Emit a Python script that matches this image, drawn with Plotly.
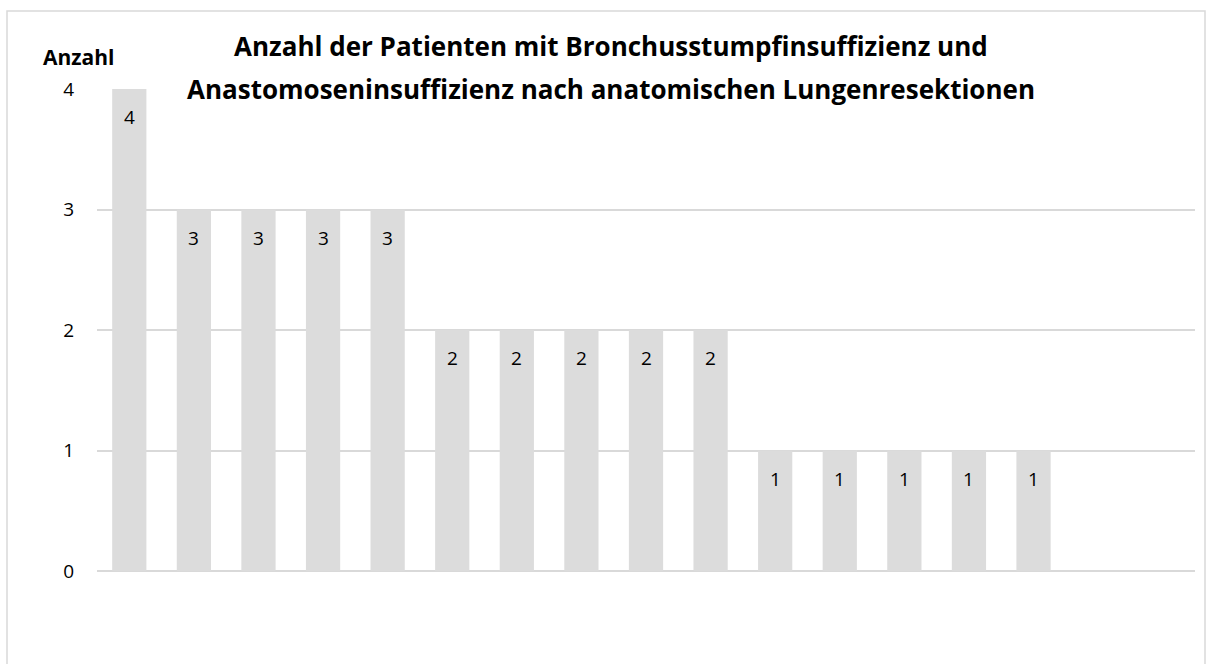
import plotly.graph_objects as go

# Patient counts per group, sorted descending; the last two slots hold no bars
categories = [f"K{i}" for i in range(1, 18)]
counts = [4, 3, 3, 3, 3, 2, 2, 2, 2, 2, 1, 1, 1, 1, 1, None, None]
y_ticks = [0, 1, 2, 3, 4]

title_lines = [
    "Anzahl der Patienten mit Bronchusstumpfinsuffizienz und",
    "Anastomoseninsuffizienz nach anatomischen Lungenresektionen",
]

FONT = "Open Sans"
BAR = "#dcdcdc"
GRID = "#d9d9d9"

W, H = 1212, 664
L, R, T, B = 97, W - 1195, 89, H - 571


def px_x(px):
    return (px - L) / (W - L - R)


def px_y(py):
    return (H - B - py) / (H - T - B)


fig = go.Figure()
fig.add_trace(go.Bar(
    x=categories,
    y=counts,
    marker=dict(color=BAR, line=dict(width=0)),
    hoverinfo="skip",
))

# value labels placed a little below each bar top
annotations = []
for c, v in zip(categories, counts):
    if v is None:
        continue
    annotations.append(dict(
        x=c, y=v, xref="x", yref="y", text=str(v), showarrow=False,
        yshift=-28, font=dict(family=FONT, size=19, color="#000000"),
    ))

# two-line chart title
for line, ypx in zip(title_lines, [46, 89]):
    annotations.append(dict(
        x=px_x(611), y=px_y(ypx), xref="paper", yref="paper",
        text=f"<b>{line}</b>", showarrow=False,
        xanchor="center", yanchor="middle",
        font=dict(family=FONT, size=26, color="#000000"),
    ))

# axis caption
annotations.append(dict(
    x=px_x(78), y=px_y(57), xref="paper", yref="paper", text="<b>Anzahl</b>",
    showarrow=False, xanchor="center", yanchor="middle",
    font=dict(family=FONT, size=21, color="#000000"),
))

fig.update_layout(
    width=W, height=H,
    margin=dict(l=L, r=R, t=T, b=B),
    paper_bgcolor="white", plot_bgcolor="white",
    showlegend=False,
    bargap=0.47,
    font=dict(family=FONT, size=19, color="#000000"),
    xaxis=dict(showticklabels=False, showgrid=False, zeroline=False,
               showline=False, ticks="", fixedrange=True),
    yaxis=dict(range=[0, 4], tickvals=y_ticks, showgrid=True, gridcolor=GRID,
               gridwidth=1.5, zeroline=True, zerolinecolor=GRID, zerolinewidth=1.5,
               showline=False, ticks="", ticklabelstandoff=22,
               tickfont=dict(family=FONT, size=19, color="#000000")),
    annotations=annotations,
    shapes=[dict(type="rect", xref="paper", yref="paper",
                 x0=px_x(7), x1=px_x(1205), y0=px_y(11), y1=px_y(700),
                 line=dict(color="#d9d9d9", width=1.5), fillcolor="rgba(0,0,0,0)",
                 layer="below")],
)

fig.write_html("out.html")
